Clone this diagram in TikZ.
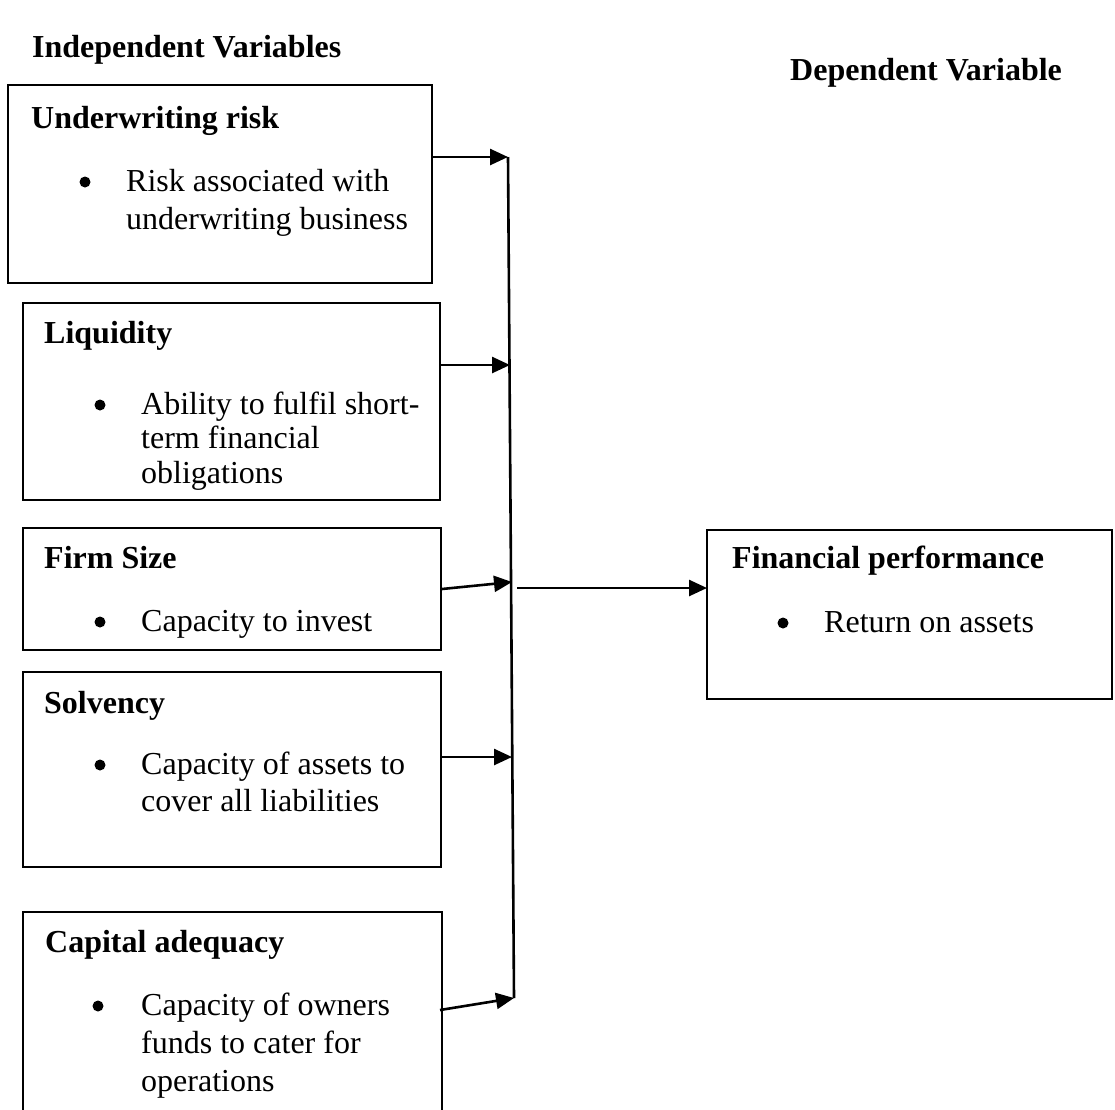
\documentclass[tikz,border=0pt]{standalone}
\usepackage{fontspec}
\setmainfont{Liberation Serif}
\usetikzlibrary{arrows.meta}
\begin{document}
\begin{tikzpicture}[x=1pt,y=-1pt,
  box/.style={draw,line width=2.6pt,inner sep=0pt,outer sep=0pt,anchor=north west},
  txt/.style={anchor=base west,inner sep=0pt,font=\fontsize{32}{38}\selectfont},
  ttl/.style={txt,font=\fontsize{32}{38}\selectfont\bfseries},
  bul/.style={circle,fill,inner sep=0pt,minimum size=11pt},
  arr/.style={line width=2.6pt,-{Triangle[length=18pt,width=16pt]}},
  bus/.style={line width=2.6pt}]
\clip (0,0) rectangle (1115,1109);
\fill[white] (0,0) rectangle (1115,1109);
% headers
\node[ttl] (hind) at (32,57) {Independent Variables};
\node[ttl] (hdep) at (790,80) {Dependent Variable};
% boxes
\node[box,minimum width=424pt,minimum height=198pt] (b1) at (8,85) {};
\node[box,minimum width=417pt,minimum height=197pt] (b2) at (23,303) {};
\node[box,minimum width=418pt,minimum height=122pt] (b3) at (23,528) {};
\node[box,minimum width=418pt,minimum height=195pt] (b4) at (23,672) {};
\node[box,minimum width=419pt,minimum height=260pt] (b5) at (23,912) {};
\node[box,minimum width=405pt,minimum height=169pt] (b6) at (707,530) {};
% box 1
\node[ttl] (t1) at (31,128) {Underwriting risk};
\node[bul] (d1) at (85,182) {};
\node[txt] (l1a) at (126,191) {Risk associated with};
\node[txt] (l1b) at (126,229) {underwriting business};
% box 2
\node[ttl] (t2) at (44,343) {Liquidity};
\node[bul] (d2) at (100,405) {};
\node[txt] (l2a) at (141,414) {Ability to fulfil short-};
\node[txt] (l2b) at (141,448) {term financial};
\node[txt] (l2c) at (141,483) {obligations};
% box 3
\node[ttl] (t3) at (44,568) {Firm Size};
\node[bul] (d3) at (100,622) {};
\node[txt] (l3a) at (141,631) {Capacity to invest};
% box 4
\node[ttl] (t4) at (44,713) {Solvency};
\node[bul] (d4) at (100,765) {};
\node[txt] (l4a) at (141,774) {Capacity of assets to};
\node[txt] (l4b) at (141,811) {cover all liabilities};
% box 5
\node[ttl] (t5) at (45,952) {Capital adequacy};
\node[bul] (d5) at (98,1006) {};
\node[txt] (l5a) at (141,1015) {Capacity of owners};
\node[txt] (l5b) at (141,1053) {funds to cater for};
\node[txt] (l5c) at (141,1091) {operations};
% box 6
\node[ttl] (t6) at (732,568) {Financial performance};
\node[bul] (d6) at (783,623) {};
\node[txt] (l6a) at (824,632) {Return on assets};
% bus line and connectors
\coordinate (bt) at (508,157);
\coordinate (bb) at (514,998);
\draw[bus] (bt) -- (bb);
\coordinate (s1) at (432,157);
\coordinate (e1) at (508,157);
\coordinate (s2) at (440,365);
\coordinate (e2) at (510,365);
\coordinate (s3) at (442,589);
\coordinate (e3) at (512,582);
\coordinate (s4) at (440,757);
\coordinate (e4) at (512,757);
\coordinate (s5) at (440,1010);
\coordinate (e5) at (514,998);
\coordinate (s6) at (517,588);
\draw[arr] (s1) -- (e1);
\draw[arr] (s2) -- (e2);
\draw[arr] (s3) -- (e3);
\draw[arr] (s4) -- (e4);
\draw[arr] (s5) -- (e5);
\draw[arr] (s6) -- (b6.west |- s6);
\end{tikzpicture}
\end{document}
